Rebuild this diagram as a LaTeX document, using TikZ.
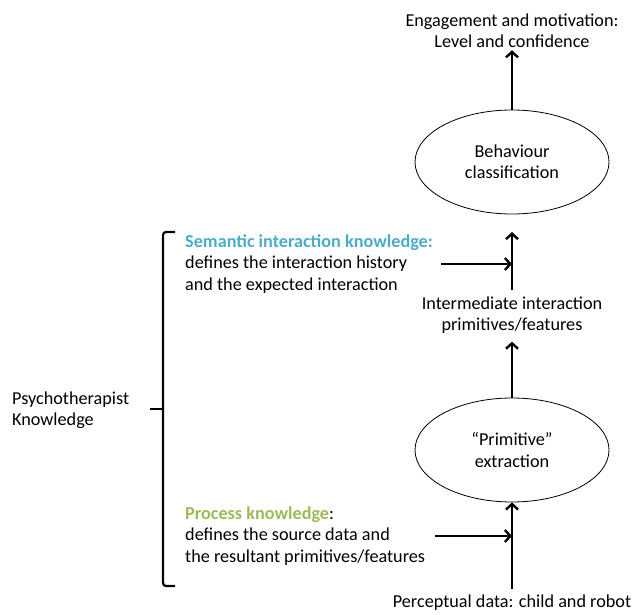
\documentclass[tikz,border=0pt]{standalone}
\usepackage{fontspec}
\setmainfont{Carlito}
\usepackage{xcolor}
\usetikzlibrary{shapes.geometric,arrows.meta}
\definecolor{semblue}{HTML}{4BACC6}
\definecolor{procgreen}{HTML}{9BBB59}

\begin{document}
\begin{tikzpicture}[x=1pt, y=-1pt, font=\fontsize{18.2}{21.3}\selectfont,
    >={Straight Barb[length=5.5pt,width=12pt]},
    stage/.style={draw, ellipse, line width=0.8pt, minimum width=194pt, minimum height=104pt, inner sep=0pt, align=center},
    flow/.style={->, line width=2.4pt}]
      \useasboundingbox (0, 0) rectangle (634, 615);
      \node[stage] (beh) at (512, 162) {Behaviour\\classification};
      \node[stage] (prim) at (512, 450) {\textquotedblleft Primitive\textquotedblright\\extraction};
      \node[align=center, inner sep=2pt] (eng) at (512, 31) {Engagement and motivation:\\Level and confidence};
      \node[align=center, inner sep=2pt] (inter) at (512, 315) {Intermediate interaction\\primitives/features};
      \node[inner sep=2pt] (perc) at (512, 603) {Perceptual data: child and robot};
      \node[align=left, anchor=west, inner sep=2pt] (sem) at (183, 264) {\textcolor{semblue}{\bfseries Semantic interaction knowledge:}\\defines the interaction history\\and the expected interaction};
      \node[align=left, anchor=west, inner sep=2pt] (proc) at (183, 536) {\textcolor{procgreen}{\bfseries Process knowledge}:\\defines the source data and\\the resultant primitives/features};
      \node[align=left, anchor=west, inner sep=2pt] (psy) at (10, 410) {Psychotherapist\\Knowledge};
      \coordinate (semtip) at (512, 232);
      \draw[flow] (beh.north) to (eng.south);
      \draw[flow] (inter.north) ++(0, -4) to (semtip);
      \draw[flow] (sem.east) ++(6, 0) to (sem.east -| inter);
      \draw[flow, shorten >=6pt] (prim.north) to (inter.south);
      \draw[flow] (perc.north) ++(0, -4) to (prim.south);
      \draw[flow] (proc.east) ++(8, 0) to (proc.east -| perc);
      \draw[line width=2.2pt, rounded corners=3pt] (175, 232) -- (163, 232) -- (163, 586) -- (175, 586);
      \draw[line width=2.2pt] (163, 409) -- (150, 409);
    \end{tikzpicture}
\end{document}
